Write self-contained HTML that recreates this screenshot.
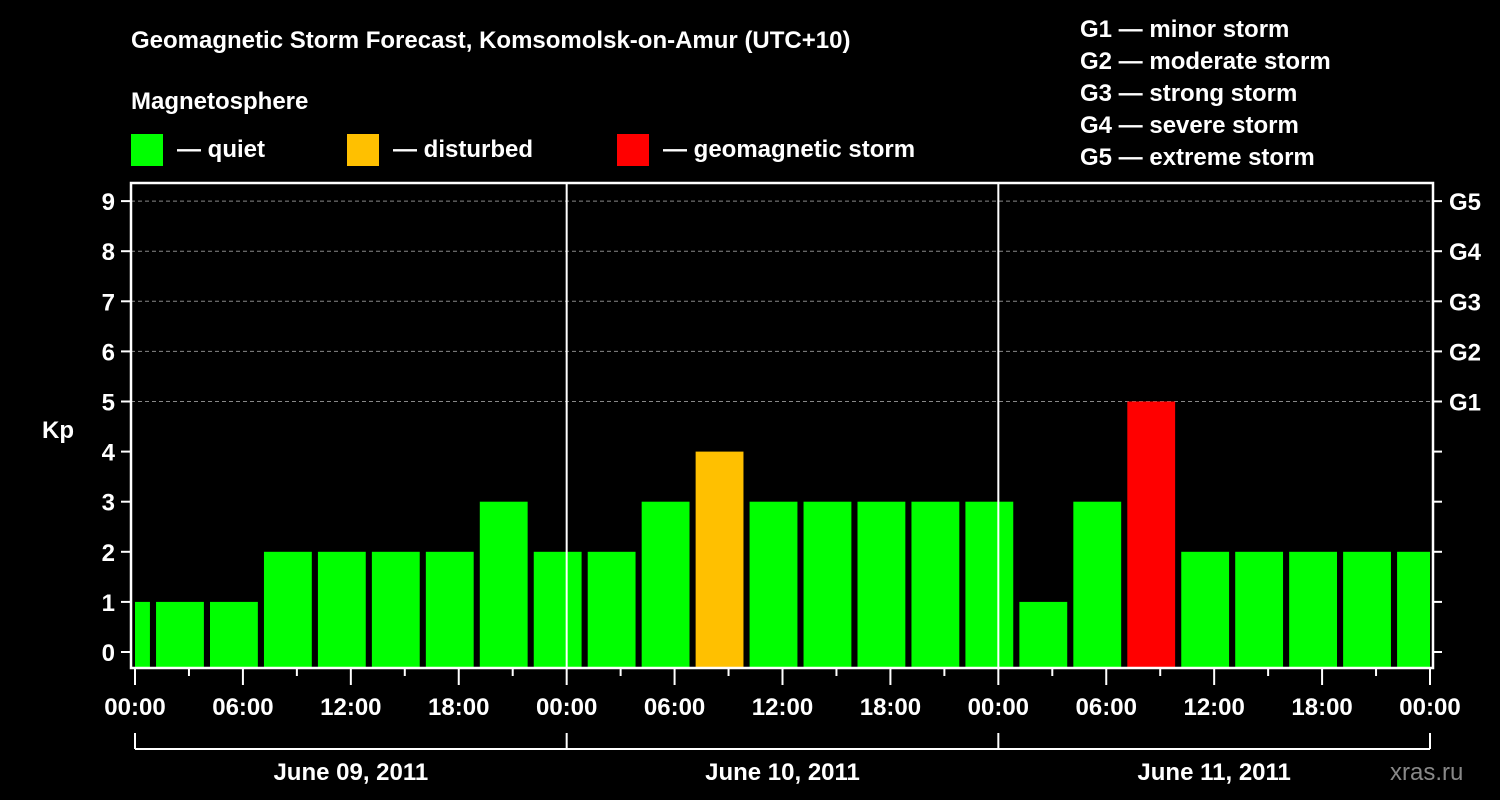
<!DOCTYPE html>
<html><head><meta charset="utf-8"><style>
html,body{margin:0;padding:0;background:#000;}
svg{display:block;font-family:"Liberation Sans",sans-serif;font-weight:bold;}
</style></head><body>
<svg id="chart" width="1500" height="800" viewBox="0 0 1500 800">
<rect width="1500" height="800" fill="#000"/>
<text x="131" y="48" fill="#fff" font-size="24">Geomagnetic Storm Forecast, Komsomolsk-on-Amur (UTC+10)</text>
<text x="131" y="109" fill="#fff" font-size="24">Magnetosphere</text>
<g><rect x="131" y="134" width="32" height="32" fill="#00ff00"/><text x="177" y="157" fill="#fff" font-size="24">— quiet</text></g>
<g><rect x="347" y="134" width="32" height="32" fill="#ffc000"/><text x="393" y="157" fill="#fff" font-size="24">— disturbed</text></g>
<g><rect x="617" y="134" width="32" height="32" fill="#ff0000"/><text x="663" y="157" fill="#fff" font-size="24">— geomagnetic storm</text></g>
<g fill="#fff" font-size="24">
<text x="1080" y="37">G1 — minor storm</text>
<text x="1080" y="69">G2 — moderate storm</text>
<text x="1080" y="101">G3 — strong storm</text>
<text x="1080" y="133">G4 — severe storm</text>
<text x="1080" y="165">G5 — extreme storm</text>
</g>
<text x="1390" y="780" fill="#888" font-size="24" font-weight="normal">xras.ru</text>
<g id="plot"></g>
</svg>
<script>
const kpValues=[1,1,1,2,2,2,2,3,2,2,3,4,3,3,3,3,3,1,3,5,2,2,2,2,2];
const kpTicks=[0,1,2,3,4,5,6,7,8,9];
const gLabels=["G1","G2","G3","G4","G5"];
const timeLabels=["00:00","06:00","12:00","18:00"];
const dayLabels=["June 09, 2011","June 10, 2011","June 11, 2011"];
const NS="http://www.w3.org/2000/svg";
const X0=135,X1=1430,FL=131,FR=1433,FT=183,FB=668;
const xs=h=>X0+(X1-X0)*h/72;
const ys=v=>652-v*50.1;
const g=document.getElementById('plot');
function mk(t,a,txt){const e=document.createElementNS(NS,t);for(const k in a)e.setAttribute(k,a[k]);if(txt!==undefined)e.textContent=txt;g.appendChild(e);return e;}
// grid
for(let v=5;v<=9;v++){
 const l=mk('line',{x1:FL,x2:FR,y1:ys(v),y2:ys(v),stroke:'#888','stroke-dasharray':'4,3','stroke-width':1});
 
 
}
// clip
const cp=mk('clipPath',{id:'pc'});cp.appendChild(document.createElementNS(NS,'rect'));
cp.firstChild.setAttribute('x',X0);cp.firstChild.setAttribute('y',FT);cp.firstChild.setAttribute('width',X1-X0);cp.firstChild.setAttribute('height',FB-FT);
const bg=mk('g',{'clip-path':'url(#pc)'});
kpValues.forEach((v,i)=>{
 const c=-0.5+3*i;
 const col=v>=5?'#ff0000':(v>=4?'#ffc000':'#00ff00');
 const r=document.createElementNS(NS,'rect');
 const xl=xs(c-1.33),xr=xs(c+1.33);
 r.setAttribute('x',xl);r.setAttribute('width',xr-xl);
 r.setAttribute('y',ys(v));r.setAttribute('height',FB-1-ys(v));
 r.setAttribute('fill',col);
 
 
 bg.appendChild(r);
});
// day separators
[24,48].forEach(h=>{
 const l=mk('line',{x1:xs(h),x2:xs(h),y1:FT,y2:FB,stroke:'#fff','stroke-width':2});
 
 
});
const fr=mk('rect',{x:FL,y:FT,width:FR-FL,height:FB-FT,fill:'none',stroke:'#fff','stroke-width':2.5});


kpTicks.forEach(v=>{
 mk('line',{x1:FL-10,x2:FL,y1:ys(v),y2:ys(v),stroke:'#fff','stroke-width':2});
 mk('line',{x1:FR,x2:FR+9,y1:ys(v),y2:ys(v),stroke:'#fff','stroke-width':2});
 const t=mk('text',{x:FL-16,y:ys(v)+9,fill:'#fff','font-size':24,'text-anchor':'end'},String(v));
 
 
});
gLabels.forEach((s,i)=>{
 const t=mk('text',{x:1449,y:ys(5+i)+9,fill:'#fff','font-size':24},s);
 
 
});
const yt=mk('text',{x:42,y:438,fill:'#fff','font-size':24},'Kp');


for(let h=0;h<=72;h+=3){
 const major=h%6===0;
 mk('line',{x1:xs(h),x2:xs(h),y1:FB,y2:FB+(major?17:8),stroke:'#fff','stroke-width':2});
 if(major){
  const t=mk('text',{x:xs(h),y:715,fill:'#fff','font-size':24,'text-anchor':'middle'},timeLabels[(h/6)%4]);
  
  
 }
}
mk('line',{x1:X0,x2:X1,y1:749,y2:749,stroke:'#fff','stroke-width':2});
[0,24,48,72].forEach(h=>mk('line',{x1:xs(h),x2:xs(h),y1:733,y2:749,stroke:'#fff','stroke-width':2}));
dayLabels.forEach((s,i)=>{
 const t=mk('text',{x:xs(12+24*i),y:780,fill:'#fff','font-size':24,'text-anchor':'middle'},s);
 
 
});
</script>
</body></html>
